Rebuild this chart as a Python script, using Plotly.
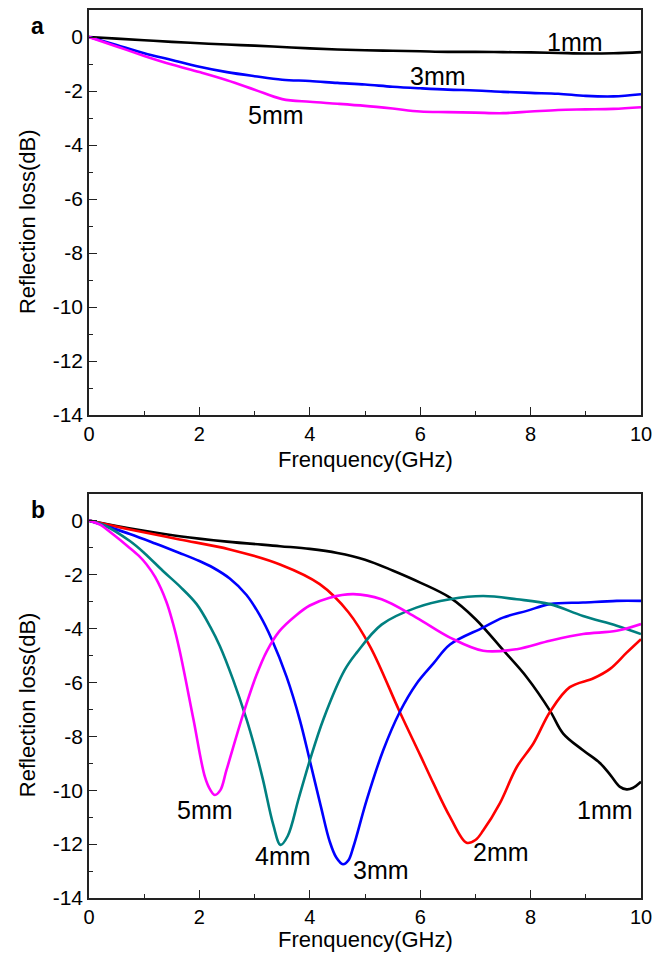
import plotly.graph_objects as go

# ---------------- Panel (a): reflection loss, thin samples ----------------
freq_a = [0, 0.5, 1, 1.5, 2, 2.5, 3, 3.5, 4, 4.5, 5, 5.5, 6, 6.5, 7, 7.5, 8, 8.5, 9, 9.5, 10]
rl_a_1mm = [0, -0.06, -0.12, -0.18, -0.23, -0.28, -0.32, -0.37, -0.42, -0.46, -0.49,
            -0.51, -0.53, -0.55, -0.55, -0.56, -0.57, -0.59, -0.61, -0.60, -0.56]
rl_a_3mm = [0, -0.30, -0.60, -0.85, -1.10, -1.30, -1.45, -1.58, -1.63, -1.70, -1.76,
            -1.84, -1.90, -1.95, -1.98, -2.03, -2.07, -2.10, -2.18, -2.20, -2.12]
rl_a_5mm = [0, -0.35, -0.70, -1.02, -1.30, -1.60, -1.95, -2.30, -2.40, -2.47, -2.55,
            -2.65, -2.76, -2.78, -2.80, -2.82, -2.76, -2.70, -2.68, -2.66, -2.60]

# ---------------- Panel (b): reflection loss, all thicknesses ----------------
freq_b_1mm = [0, 0.5, 1, 1.64, 2.5, 3.46, 4.0, 4.5, 5.0, 5.5, 6.0, 6.54, 7.0, 7.5,
              7.93, 8.35, 8.59, 8.95, 9.26, 9.45, 9.62, 9.74, 9.85, 10]
rl_b_1mm = [0, -0.2, -0.38, -0.58, -0.78, -0.95, -1.05, -1.2, -1.45, -1.85, -2.3,
            -2.86, -3.65, -4.8, -5.81, -7.05, -7.9, -8.52, -9.0, -9.45, -9.88, -9.97,
            -9.92, -9.69]

freq_b_2mm = [0, 0.74, 1.64, 2.55, 3.46, 4.18, 4.7, 5.1, 5.63, 6.0, 6.24, 6.54, 6.84,
              7.0, 7.14, 7.44, 7.75, 8.05, 8.35, 8.71, 9.14, 9.44, 9.74, 10]
rl_b_2mm = [0, -0.33, -0.7, -1.07, -1.63, -2.36, -3.4, -4.7, -7.1, -8.7, -9.75, -10.99,
            -11.95, -11.85, -11.5, -10.5, -9.14, -8.27, -7.1, -6.18, -5.85, -5.5,
            -4.9, -4.4]

freq_b_3mm = [0, 0.74, 1.2, 1.64, 2.0, 2.25, 2.55, 2.85, 3.09, 3.31, 3.58, 3.82, 4.0,
              4.2, 4.36, 4.48, 4.6, 4.7, 4.79, 5.03, 5.33, 5.63, 5.93, 6.24, 6.54,
              7.14, 7.5, 7.93, 8.35, 8.95, 9.56, 10]
rl_b_3mm = [0, -0.5, -0.85, -1.2, -1.5, -1.75, -2.15, -2.75, -3.5, -4.4, -5.8, -7.4,
            -8.9, -10.6, -11.9, -12.5, -12.75, -12.6, -12.1, -10.37, -8.52, -7.1,
            -6.06, -5.3, -4.6, -3.97, -3.6, -3.35, -3.1, -3.04, -2.98, -2.98]

freq_b_4mm = [0, 0.3, 0.74, 1.0, 1.34, 1.65, 1.95, 2.2, 2.37, 2.61, 2.85, 3.0, 3.15,
              3.34, 3.47, 3.6, 3.8, 4.0, 4.25, 4.63, 4.85, 5.3, 5.93, 6.54, 7.14,
              7.75, 8.35, 8.95, 9.56, 10]
rl_b_4mm = [0, -0.2, -0.76, -1.2, -1.87, -2.45, -3.1, -3.95, -4.65, -5.9, -7.35, -8.4,
            -9.6, -11.3, -12.03, -11.7, -10.3, -8.9, -7.35, -5.55, -4.9, -3.86, -3.23,
            -2.92, -2.8, -2.92, -3.1, -3.54, -3.9, -4.21]

freq_b_5mm = [0, 0.2, 0.44, 0.7, 0.9, 1.04, 1.2, 1.4, 1.52, 1.64, 1.89, 2.1, 2.2, 2.28,
              2.38, 2.49, 2.79, 3.03, 3.22, 3.45, 3.76, 4.0, 4.36, 4.79, 5.3, 5.93,
              6.54, 7.14, 7.75, 8.35, 8.95, 9.56, 10]
rl_b_5mm = [0, -0.15, -0.52, -0.95, -1.3, -1.62, -2.1, -3.0, -3.8, -4.8, -7.35, -9.51,
            -10.0, -10.18, -10.0, -9.26, -7.2, -5.75, -4.85, -4.1, -3.5, -3.15, -2.86,
            -2.73, -2.92, -3.6, -4.34, -4.83, -4.77, -4.46, -4.21, -4.09, -3.84]

# Curve labels: (text, x, y)
labels_a = [("1mm", 8.8, -0.2), ("3mm", 6.32, -1.45), ("5mm", 3.39, -2.9)]
labels_b = [("5mm", 2.1, -10.73), ("4mm", 3.52, -12.46), ("3mm", 5.29, -12.96),
            ("2mm", 7.47, -12.28), ("1mm", 9.35, -10.74)]

x_tickvals = [0, 2, 4, 6, 8, 10]
x_ticktext = ["0", "2", "4", "6", "8", "10"]
y_tickvals = [0, -2, -4, -6, -8, -10, -12, -14]
y_ticktext = ["0", "-2", "-4", "-6", "-8", "-10", "-12", "-14"]

x_title = "Frenquency(GHz)"
y_title = "Reflection loss(dB)"

FONT = "Liberation Sans, Arial, sans-serif"
BLACK = "#000000"
BLUE = "#0000FF"
MAGENTA = "#FF00FF"
RED = "#FF0000"
TEAL = "#008080"
LW = 2.6

fig = go.Figure()


def add_curve(x, y, color, xa, ya):
    fig.add_trace(go.Scatter(
        x=x, y=y, mode="lines", xaxis=xa, yaxis=ya,
        line=dict(color=color, width=LW, shape="spline", smoothing=1.0),
        showlegend=False, hoverinfo="skip",
    ))


add_curve(freq_a, rl_a_1mm, BLACK, "x", "y")
add_curve(freq_a, rl_a_3mm, BLUE, "x", "y")
add_curve(freq_a, rl_a_5mm, MAGENTA, "x", "y")

add_curve(freq_b_1mm, rl_b_1mm, BLACK, "x2", "y2")
add_curve(freq_b_2mm, rl_b_2mm, RED, "x2", "y2")
add_curve(freq_b_3mm, rl_b_3mm, BLUE, "x2", "y2")
add_curve(freq_b_4mm, rl_b_4mm, TEAL, "x2", "y2")
add_curve(freq_b_5mm, rl_b_5mm, MAGENTA, "x2", "y2")

frame = "#222222"
common_x = dict(
    range=[0, 10], tickmode="array", tickvals=x_tickvals, ticktext=x_ticktext,
    ticks="inside", ticklen=8, tickwidth=1.4, tickcolor=frame,
    minor=dict(tickmode="linear", tick0=0, dtick=1, ticks="inside",
               ticklen=4, tickwidth=1.4, tickcolor=frame),
    showline=True, linecolor=frame, linewidth=1.6, mirror=True,
    showgrid=False, zeroline=False,
    tickfont=dict(family=FONT, size=20, color=BLACK),
)
common_y = dict(
    range=[-14, 1], tickmode="array", tickvals=y_tickvals, ticktext=y_ticktext,
    ticks="inside", ticklen=8, tickwidth=1.4, tickcolor=frame,
    minor=dict(tickmode="linear", tick0=-1, dtick=2, ticks="inside",
               ticklen=4, tickwidth=1.4, tickcolor=frame),
    showline=True, linecolor=frame, linewidth=1.6, mirror=True,
    showgrid=False, zeroline=False,
    tickfont=dict(family=FONT, size=21, color=BLACK),
)

fig.update_layout(
    width=666, height=954,
    margin=dict(l=89, r=25, t=8, b=56),
    paper_bgcolor="white", plot_bgcolor="white",
    xaxis=dict(domain=[0, 1], anchor="y", **common_x),
    yaxis=dict(domain=[0.5438, 1], anchor="x", **common_y),
    xaxis2=dict(domain=[0, 1], anchor="y2", **common_x),
    yaxis2=dict(domain=[0, 0.4554], anchor="x2", **common_y),
)

ann = []
label_font = dict(family=FONT, size=25, color=BLACK)
for text, x, y in labels_a:
    ann.append(dict(text=text, x=x, y=y, xref="x", yref="y", showarrow=False,
                    xanchor="center", yanchor="middle", font=label_font))
for text, x, y in labels_b:
    ann.append(dict(text=text, x=x, y=y, xref="x2", yref="y2", showarrow=False,
                    xanchor="center", yanchor="middle", font=label_font))

title_font = dict(family=FONT, size=22, color=BLACK)
# x-axis titles placed in paper space just below each panel
for py in (0.4933, -0.0472):
    ann.append(dict(text=x_title, x=0.5, y=py, xref="paper", yref="paper",
                    showarrow=False, xanchor="center", yanchor="middle",
                    font=title_font))
for yr in ("y", "y2"):
    ann.append(dict(text=y_title, x=-0.1123, y=-6.85, xref="paper", yref=yr,
                    textangle=-90, showarrow=False, xanchor="center",
                    yanchor="middle", font=title_font))

panel_font = dict(family=FONT, size=23, color=BLACK)
ann.append(dict(text="<b>a</b>", x=-0.0924, y=0.982, xref="paper", yref="paper",
                showarrow=False, xanchor="center", yanchor="middle", font=panel_font))
ann.append(dict(text="<b>b</b>", x=-0.0924, y=0.437, xref="paper", yref="paper",
                showarrow=False, xanchor="center", yanchor="middle", font=panel_font))

fig.update_layout(annotations=ann)
fig.write_html("out.html")
